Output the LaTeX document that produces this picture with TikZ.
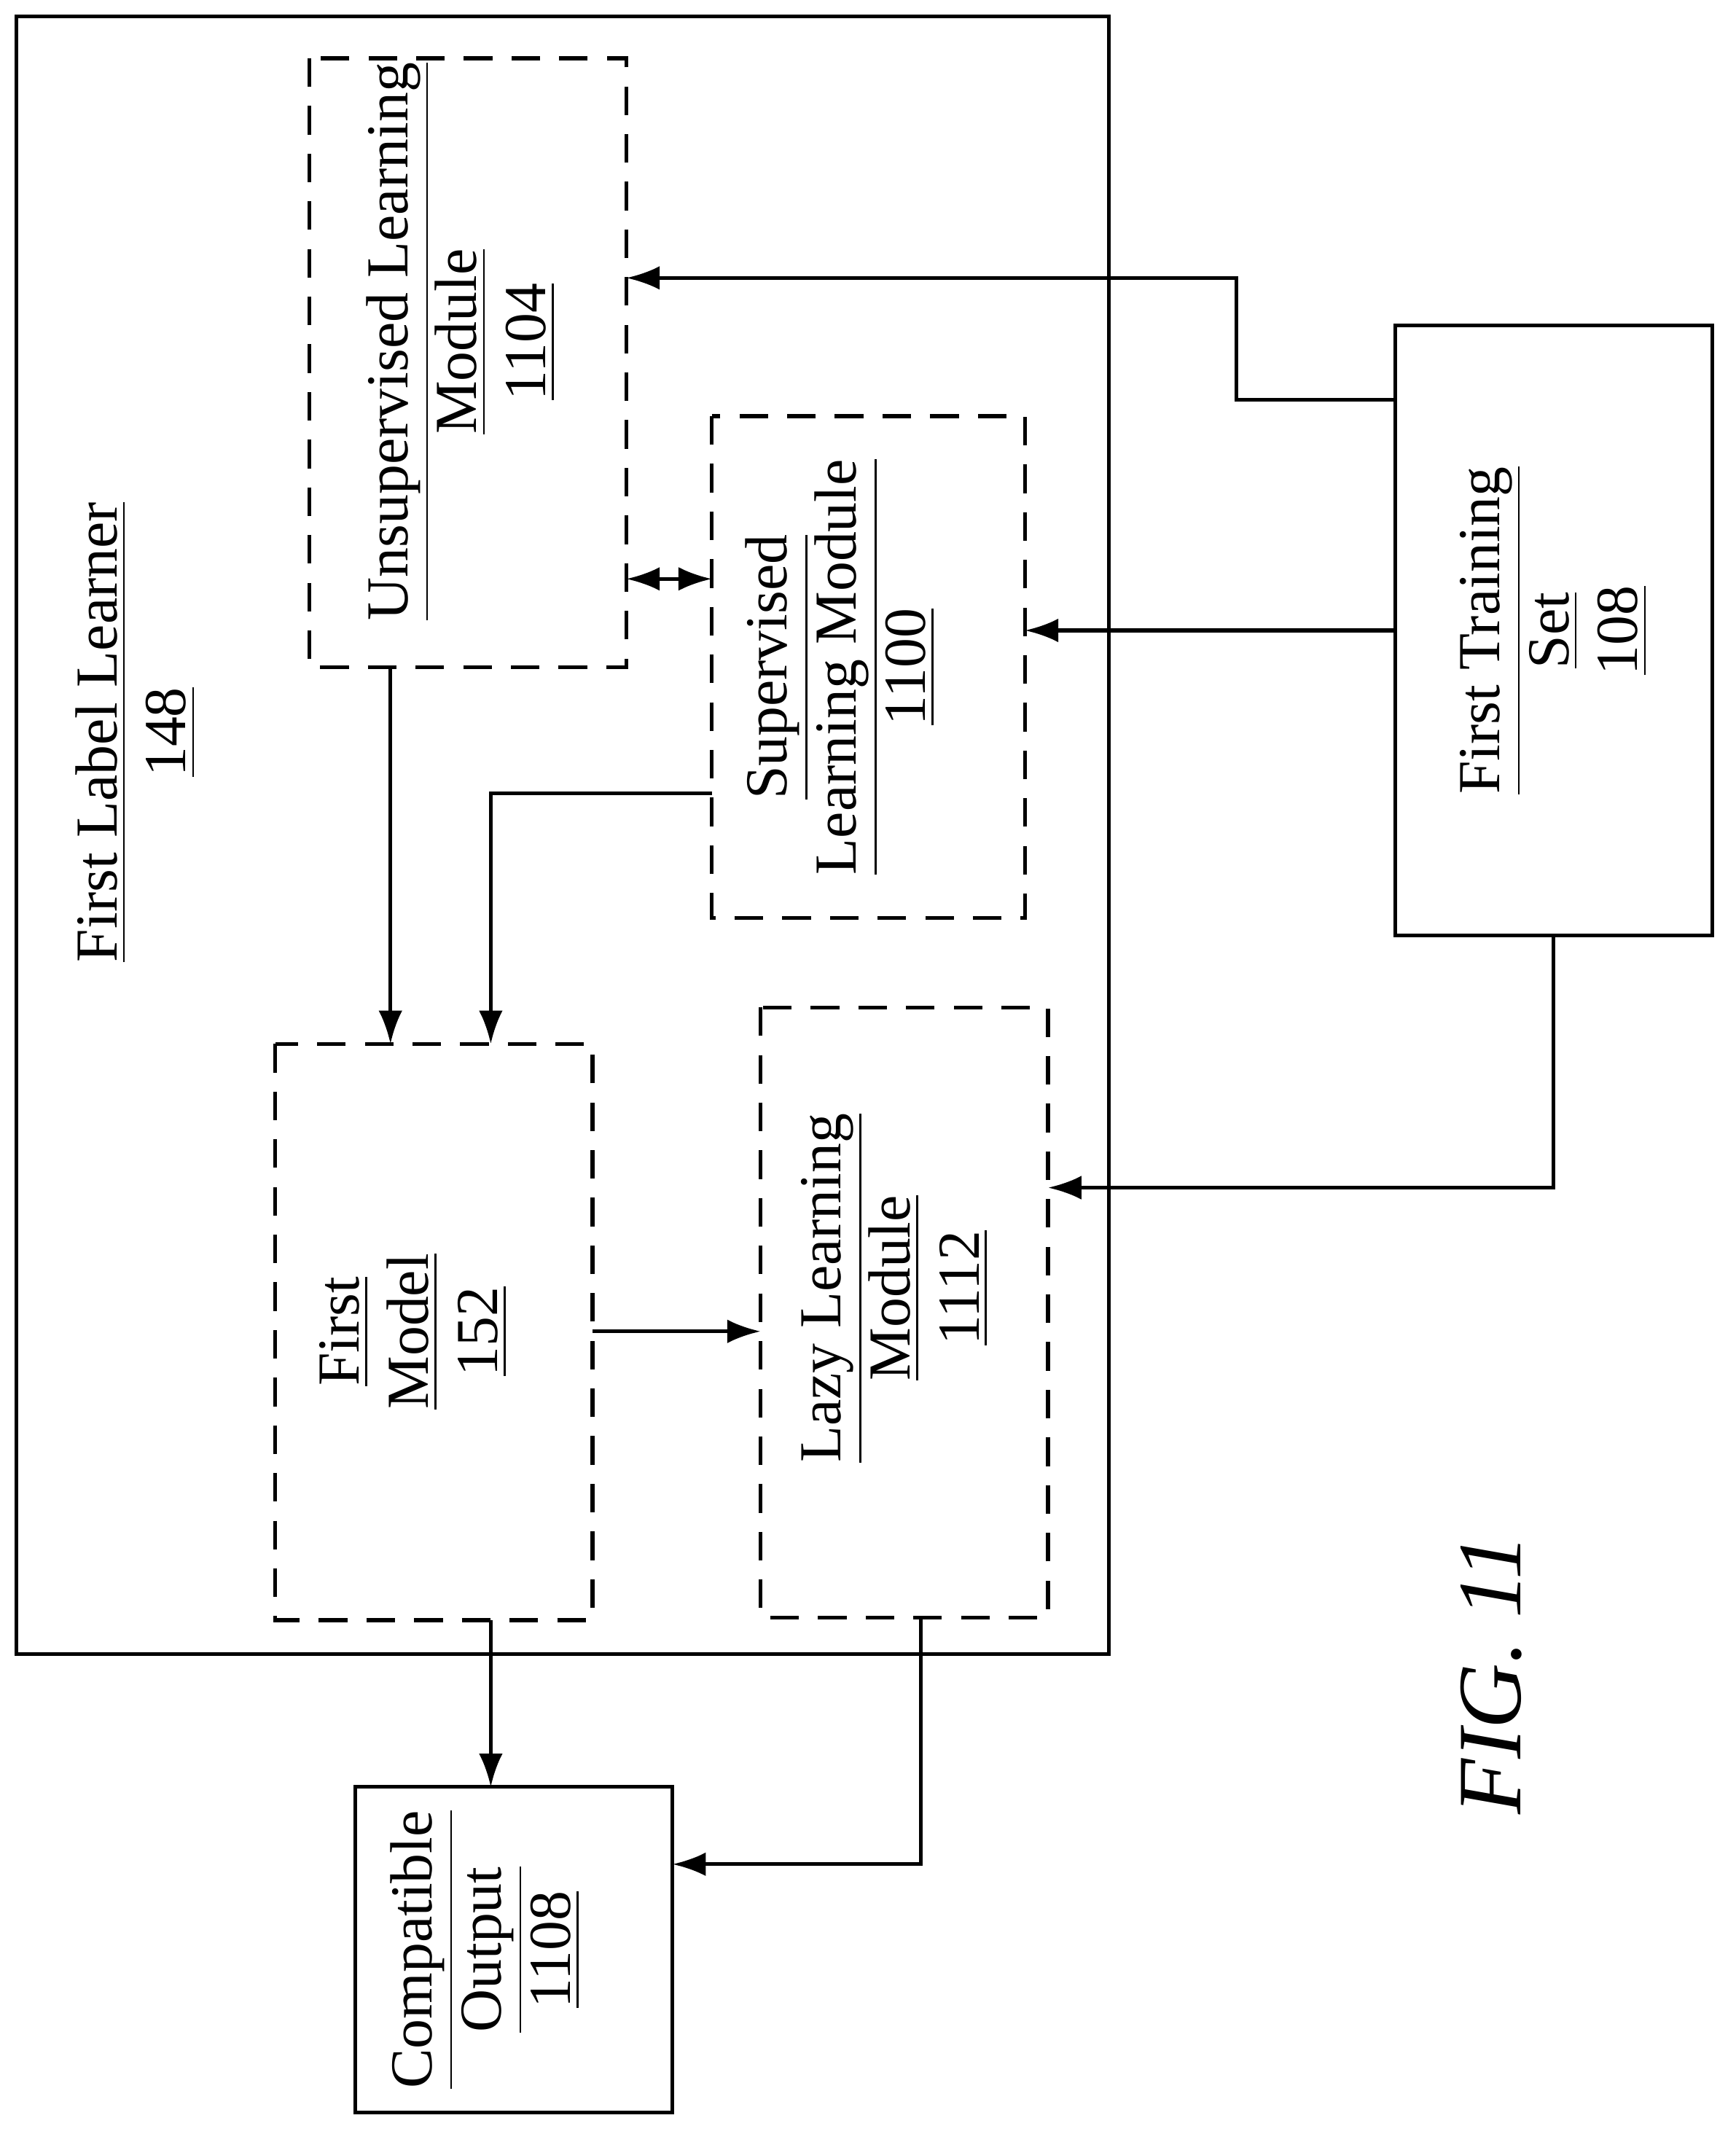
\documentclass[tikz,border=0pt]{standalone}
\usepackage{fontspec}
\setmainfont{Liberation Serif}
\usetikzlibrary{arrows.meta}
\begin{document}
\begin{tikzpicture}[x=0.01cm,y=-0.01cm,
  box/.style={draw,line width=0.8pt},
  dbox/.style={draw,line width=0.8pt,dash pattern=on 6pt off 4pt},
  lbl/.style={rotate=90,align=center,font=\fontsize{12.5}{14.5}\selectfont},
  arr/.style={-{Latex[length=7pt,width=5pt]},line width=0.8pt}]
\useasboundingbox (0,0) rectangle (1280,1574);
\draw[box] (12,12) rectangle (818,1220);
\node[lbl] (fll) at (100,540) {\underline{First Label Learner}\\\underline{148}};
\draw[dbox] (228,43) rectangle (462,492);
\node[lbl] (uns) at (340,252) {\underline{Unsupervised Learning}\\\underline{Module}\\\underline{1104}};
\draw[dbox] (525,307) rectangle (756,677);
\node[lbl] (sup) at (620,492) {\underline{Supervised}\\\underline{Learning Module}\\\underline{1100}};
\draw[dbox] (203,770) rectangle (437,1195);
\node[lbl] (fm) at (305,982) {\underline{First}\\\underline{Model}\\\underline{152}};
\draw[dbox] (561,743) rectangle (773,1193);
\node[lbl] (lazy) at (660,950) {\underline{Lazy Learning}\\\underline{Module}\\\underline{1112}};
\draw[box] (1029,240) rectangle (1263,690);
\node[lbl] (fts) at (1146,465) {\underline{First Training}\\\underline{Set}\\\underline{108}};
\draw[box] (262,1318) rectangle (496,1558);
\node[lbl] (co) at (358,1438) {\underline{Compatible}\\\underline{Output}\\\underline{1108}};
\node[rotate=90,font=\fontsize{19}{22}\selectfont\itshape] (fig) at (1100,1235) {FIG. 11};
% connectors
\coordinate (t1) at (1029,295); \coordinate (u1) at (462,205);
\draw[arr] (t1) -- (912,295) -- (912,205) -- (u1);
\coordinate (t2) at (1029,465); \coordinate (s1) at (756,465);
\draw[arr] (t2) -- (s1);
\coordinate (t3) at (1146,690); \coordinate (l1) at (773,876);
\draw[arr] (t3) -- (1146,876) -- (l1);
\coordinate (u2) at (462,427); \coordinate (s2) at (525,427);
\draw[{Latex[length=7pt,width=5pt]}-{Latex[length=7pt,width=5pt]},line width=0.8pt] (u2) -- (s2);
\coordinate (u3) at (288,492); \coordinate (f1) at (288,770);
\draw[arr] (u3) -- (f1);
\coordinate (s3) at (525,585); \coordinate (f2) at (362,770);
\draw[arr] (s3) -- (362,585) -- (f2);
\coordinate (f3) at (437,982); \coordinate (l2) at (561,982);
\draw[arr] (f3) -- (l2);
\coordinate (f4) at (362,1195); \coordinate (c1) at (362,1318);
\draw[arr] (f4) -- (c1);
\coordinate (l3) at (679,1193); \coordinate (c2) at (496,1375);
\draw[arr] (l3) -- (679,1375) -- (c2);
\end{tikzpicture}
\end{document}
